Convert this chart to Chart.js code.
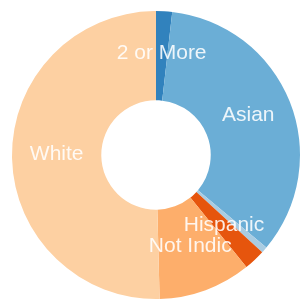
<!DOCTYPE html>
<html><head><meta charset="utf-8">
<script src="https://cdn.jsdelivr.net/npm/chart.js@4/dist/chart.umd.min.js"></script>
<style>
html,body{margin:0;padding:0;background:#fff;overflow:hidden;width:301px;height:300px;}
#wrap{position:absolute;left:0;top:0;width:312px;height:310px;}
</style></head>
<body>
<div id="wrap"><canvas id="c"></canvas></div>
<script>
const categories = ["2 or More", "Asian", "Black", "Hispanic", "Not Indic", "White"];
const values = [1.8, 34.3, 0.7, 2.4, 10.4, 50.4];
const colors = ["#3182bd", "#6baed6", "#a9cce2", "#e6550d", "#fdae6b", "#fdd0a2"];

const labelPlugin = {
  id: 'sliceLabels',
  afterDatasetsDraw(chart) {
    const ctx = chart.ctx;
    const meta = chart.getDatasetMeta(0);
    const total = values.reduce((a, b) => a + b, 0);
    ctx.save();
    ctx.font = '21px "Liberation Sans", Arial, sans-serif';
    ctx.fillStyle = 'rgba(255,255,255,0.88)';
    ctx.textAlign = 'center';
    ctx.textBaseline = 'bottom';
    meta.data.forEach((arc, i) => {
      if (values[i] / total < 0.015) return;
      const p = arc.tooltipPosition();
      ctx.fillText(categories[i], p.x, p.y + 8);
    });
    ctx.restore();
  }
};

new Chart(document.getElementById('c'), {
  type: 'doughnut',
  data: {
    labels: categories,
    datasets: [{ data: values, backgroundColor: colors, borderWidth: 0 }]
  },
  options: {
    responsive: true,
    maintainAspectRatio: false,
    animation: false,
    cutout: '38%',
    layout: { padding: { left: 12, right: 12, top: 11, bottom: 11 } },
    plugins: { legend: { display: false }, tooltip: { enabled: false } }
  },
  plugins: [labelPlugin]
});
</script>
</body></html>
